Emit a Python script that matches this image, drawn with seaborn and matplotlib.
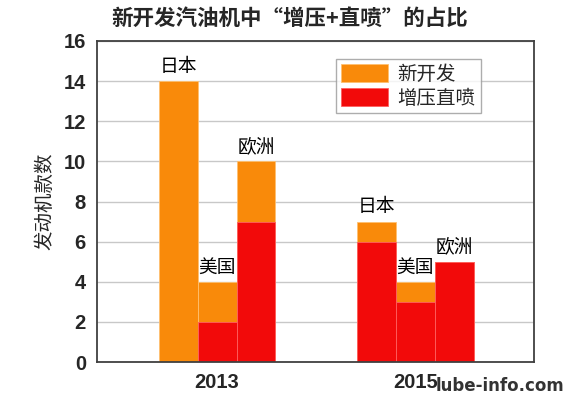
import pandas as pd
import matplotlib.pyplot as plt
import seaborn as sns

# 数据
years = ['2013', '2015']
regions = ['日本', '美国', '欧洲']
new_dev = [14, 4, 10, 7, 4, 5]      # 新开发
turbo_di = [0, 2, 7, 6, 3, 5]       # 增压直喷
yticks = [0, 2, 4, 6, 8, 10, 12, 14, 16]

df = pd.DataFrame({
    'year': [y for y in years for _ in regions],
    'region': regions * len(years),
    'new': new_dev,
    'turbo': turbo_di,
})

sns.set_style('white')
plt.rcParams['font.family'] = ['Noto Sans CJK SC', 'DejaVu Sans']

ORANGE = '#F98A0A'
RED = '#F20A0A'

fig = plt.figure(figsize=(5.67, 3.99), dpi=100)
ax = fig.add_axes([97 / 567, 1 - 362 / 399, 437 / 567, 321 / 399])

sns.barplot(data=df, x='year', y='new', hue='region', hue_order=regions,
            palette=[ORANGE] * 3, width=0.59, gap=0, saturation=1,
            edgecolor='#FFC070', linewidth=0.6, legend=False, ax=ax)
sns.barplot(data=df, x='year', y='turbo', hue='region', hue_order=regions,
            palette=[RED] * 3, width=0.59, gap=0, saturation=1,
            edgecolor='#FF6060', linewidth=0.6, legend=False, ax=ax)

# 区域标签（放在每组柱子上方）
for i, cont in enumerate(ax.containers[:3]):
    for bar in cont:
        ax.annotate(regions[i], (bar.get_x() + bar.get_width() / 2, bar.get_height()),
                    xytext=(0, 3), textcoords='offset points', ha='center', va='bottom',
                    fontsize=13.5, color='black')

ax.set_xlim(-0.606, 1.60)
ax.set_ylim(0, 16)
ax.set_yticks(yticks)
ax.yaxis.grid(True, color='#C8C8C8', linewidth=1)
ax.set_axisbelow(True)
ax.tick_params(axis='both', length=0, pad=8)
for lab in ax.get_yticklabels() + ax.get_xticklabels():
    lab.set_fontfamily('Liberation Sans')
    lab.set_fontweight('bold')
    lab.set_fontsize(14.5)
ax.set_xlabel('')
ax.set_ylabel('发动机款数', fontsize=14, labelpad=6)
for sp in ax.spines.values():
    sp.set_color('#404040')
    sp.set_linewidth(1.3)

leg = ax.legend([ax.containers[0][0], ax.containers[3][0]], ['新开发', '增压直喷'],
                loc='upper right', bbox_to_anchor=(0.90, 0.975), fontsize=14,
                frameon=True, fancybox=False, edgecolor='#999999',
                handlelength=2.4, handleheight=1.1, borderpad=0.25,
                labelspacing=0.15, handletextpad=0.5)
leg.get_frame().set_linewidth(1)

fig.text(290 / 567, 1 - 18 / 399, '新开发汽油机中“增压+直喷”的占比', ha='center', va='center',
         fontsize=15.5, fontweight='bold')
fig.text(564 / 567, 1 - 386 / 399, 'lube-info.com', ha='right', va='center',
         fontsize=12, fontweight='bold', color='#333333', family='DejaVu Sans')

fig.savefig('out.png', dpi=100)
